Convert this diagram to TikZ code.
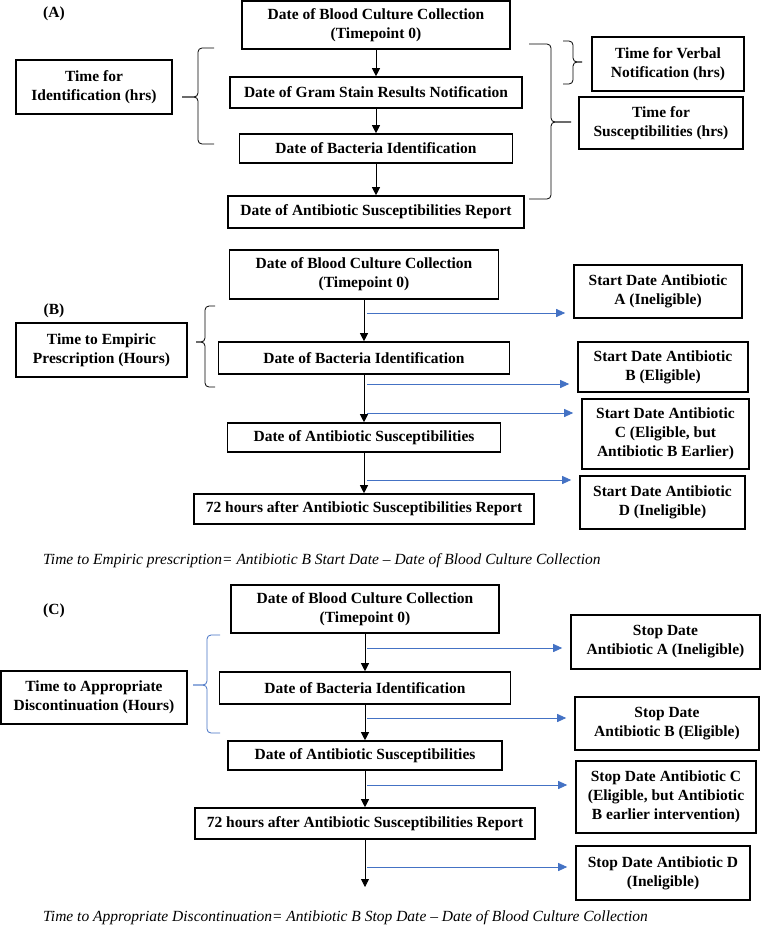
\documentclass[tikz,border=0pt]{standalone}
\usepackage{fontspec}
\setmainfont{Liberation Serif}
\usetikzlibrary{arrows.meta}
\definecolor{wordblue}{HTML}{4472C4}
% curly brace: ends x, spine x, tip x, top y, tip y, bottom y
\newcommand{\curlybr}[7][black]{%
  \draw[#1, line width=0.8pt, rounded corners=4pt] (#2,#5) -- (#3,#5) -- (#3,#6) -- (#4,#6);
  \draw[#1, line width=0.8pt, rounded corners=4pt] (#2,#7) -- (#3,#7) -- (#3,#6) -- (#4,#6);}

\begin{document}
\begin{tikzpicture}[x=1pt, y=-1pt, font=\fontsize{15.5}{19}\selectfont,
    box/.style={draw, line width=1.6pt, align=center, inner sep=0pt,
      font=\fontsize{15.5}{19}\selectfont\bfseries},
    arr/.style={line width=0.8pt, -{Triangle[width=8pt,length=8pt]}},
    bluearr/.style={wordblue, line width=0.9pt, -{Triangle[width=8pt,length=9pt]}, shorten >=8pt}]
  \useasboundingbox (0,0) rectangle (761,927);
  % (A) timeline
  \node[font=\fontsize{15.5}{19}\selectfont\bfseries] (lA) at (54,14) {(A)};
  \node[box, minimum width=268pt, minimum height=48pt] (a0) at (376,25) {Date of Blood Culture Collection\\(Timepoint 0)};
  \node[box, minimum width=292pt, minimum height=31pt] (a1) at (376,92.5) {Date of Gram Stain Results Notification};
  \node[box, minimum width=273pt, minimum height=29pt] (a2) at (376,148.5) {Date of Bacteria Identification};
  \node[box, minimum width=296pt, minimum height=32pt] (a3) at (376,212) {Date of Antibiotic Susceptibilities Report};
  \draw[arr] (a0) -- (a1);
  \draw[arr] (a1) -- (a2);
  \draw[arr] (a2) -- (a3);
  % intervals
  \node[box, minimum width=156pt, minimum height=54pt] (aid) at (94,87) {Time for\\Identification (hrs)};
  \node[box, minimum width=152pt, minimum height=54pt] (averb) at (668,64) {Time for Verbal\\Notification (hrs)};
  \node[box, minimum width=164pt, minimum height=52pt] (asus) at (661,123) {Time for\\Susceptibilities (hrs)};
  \curlybr{214}{198}{182}{48}{97}{144}
  \curlybr{529}{551}{571}{44}{122}{199}
  \curlybr{563}{573}{582}{41}{62}{84}

  % (B) empiric prescription
  \node[font=\fontsize{15.5}{19}\selectfont\bfseries] (lB) at (54,311) {(B)};
  \node[box, minimum width=269pt, minimum height=49pt] (b0) at (364,274.5) {Date of Blood Culture Collection\\(Timepoint 0)};
  \node[box, minimum width=291pt, minimum height=32pt] (b1) at (364,358) {Date of Bacteria Identification};
  \node[box, minimum width=273pt, minimum height=29pt] (b2) at (364,437.5) {Date of Antibiotic Susceptibilities};
  \node[box, minimum width=340pt, minimum height=30pt] (b3) at (364,509) {72 hours after Antibiotic Susceptibilities Report};
  \draw[arr] (b0) -- (b1);
  \draw[arr] (b1) -- (b2);
  \draw[arr] (b2) -- (b3);
  \node[box, minimum width=171pt, minimum height=54pt] (bemp) at (101.5,350) {Time to Empiric\\Prescription (Hours)};
  \curlybr{215}{205}{196}{306}{342}{387}
  \node[box, minimum width=168pt, minimum height=53pt] (sa) at (658,291.5) {Start Date Antibiotic\\A (Ineligible)};
  \node[box, minimum width=170pt, minimum height=50pt] (sb) at (663,367) {Start Date Antibiotic\\B (Eligible)};
  \node[box, minimum width=167pt, minimum height=70pt] (sc) at (665.5,434) {Start Date Antibiotic\\C (Eligible, but\\Antibiotic B Earlier)};
  \node[box, minimum width=165pt, minimum height=53pt] (sd) at (662.5,502.5) {Start Date Antibiotic\\D (Ineligible)};
  \coordinate (ea) at (367,313);
  \coordinate (eb) at (367,384);
  \coordinate (ec) at (367,413);
  \coordinate (ed) at (367,480);
  \draw[bluearr] (ea) -- (ea -| sa.west);
  \draw[bluearr] (eb) -- (eb -| sb.west);
  \draw[bluearr] (ec) -- (ec -| sc.west);
  \draw[bluearr] (ed) -- (ed -| sd.west);
  \node[anchor=west, inner sep=0pt, font=\fontsize{15.5}{19}\selectfont\itshape] (capb) at (43,561)
    {Time to Empiric prescription= Antibiotic B Start Date – Date of Blood Culture Collection};

  % (C) appropriate discontinuation
  \node[font=\fontsize{15.5}{19}\selectfont\bfseries] (lC) at (54,611) {(C)};
  \node[box, minimum width=268pt, minimum height=48pt] (c0) at (365,609) {Date of Blood Culture Collection\\(Timepoint 0)};
  \node[box, minimum width=291pt, minimum height=32pt] (c1) at (365,688) {Date of Bacteria Identification};
  \node[box, minimum width=274pt, minimum height=29pt] (c2) at (365,755.5) {Date of Antibiotic Susceptibilities};
  \node[box, minimum width=340pt, minimum height=31pt] (c3) at (365,823.5) {72 hours after Antibiotic Susceptibilities Report};
  \coordinate (cend) at (365,887);
  \draw[arr] (c0) -- (c1);
  \draw[arr] (c1) -- (c2);
  \draw[arr] (c2) -- (c3);
  \draw[arr] (c3) -- (cend);
  \node[box, minimum width=186pt, minimum height=53pt] (capp) at (94,697.5) {Time to Appropriate\\Discontinuation (Hours)};
  \curlybr[wordblue]{220}{207}{193}{635}{685}{733}
  \node[box, minimum width=189pt, minimum height=54pt] (ta) at (665.5,642) {Stop Date\\Antibiotic A (Ineligible)};
  \node[box, minimum width=184pt, minimum height=53pt] (tb) at (667,723.5) {Stop Date\\Antibiotic B (Eligible)};
  \node[box, minimum width=180pt, minimum height=72pt] (tc) at (666,797) {Stop Date Antibiotic C\\(Eligible, but Antibiotic\\B earlier intervention)};
  \node[box, minimum width=174pt, minimum height=54pt] (td) at (663,873) {Stop Date Antibiotic D\\(Ineligible)};
  \coordinate (fa) at (367,648);
  \coordinate (fb) at (367,718);
  \coordinate (fc) at (367,785);
  \coordinate (fd) at (367,867);
  \draw[bluearr] (fa) -- (fa -| ta.west);
  \draw[bluearr] (fb) -- (fb -| tb.west);
  \draw[bluearr] (fc) -- (fc -| tc.west);
  \draw[bluearr] (fd) -- (fd -| td.west);
  \node[anchor=west, inner sep=0pt, font=\fontsize{15.5}{19}\selectfont\itshape] (capc) at (43,918)
    {Time to Appropriate Discontinuation= Antibiotic B Stop Date – Date of Blood Culture Collection};
\end{tikzpicture}
\end{document}
